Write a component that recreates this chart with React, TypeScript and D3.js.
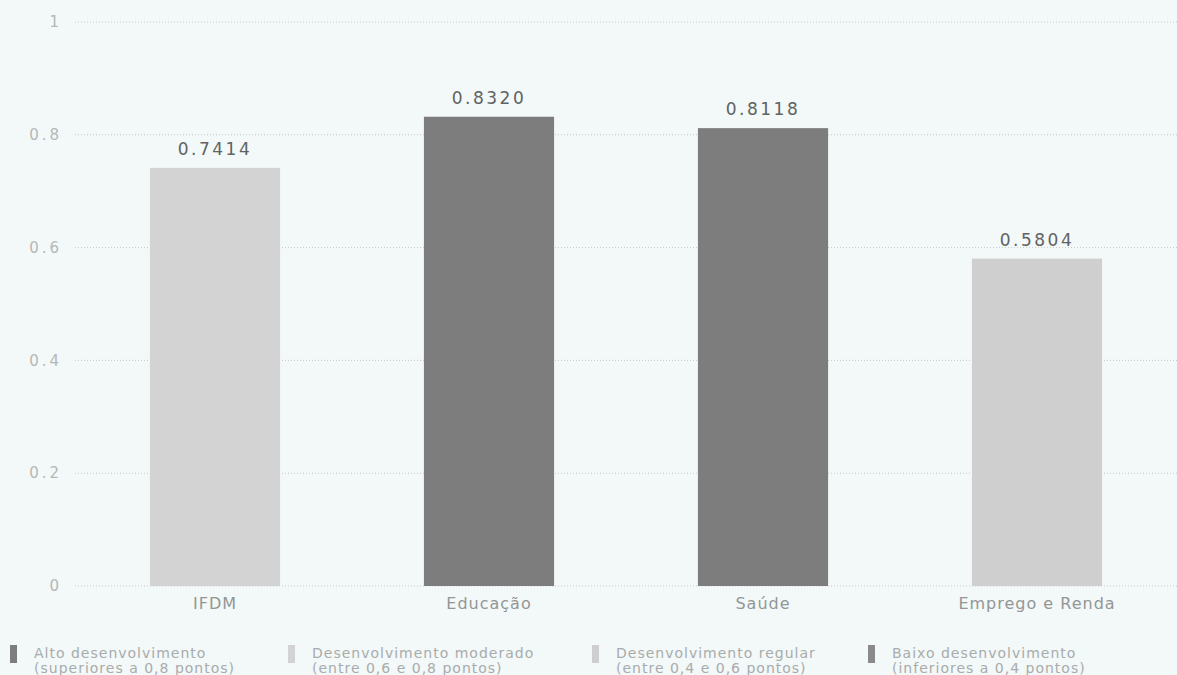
import React, { useEffect, useRef } from 'react';
import * as d3 from 'd3';

const categories = ['IFDM', 'Educação', 'Saúde', 'Emprego e Renda'];
const values = [0.7414, 0.832, 0.8118, 0.5804];
const valueLabels = ['0.7414', '0.8320', '0.8118', '0.5804'];
// faixa de desenvolvimento de cada barra
const barClasses = ['moderado', 'alto', 'alto', 'regular'];

const yTicks = [0, 0.2, 0.4, 0.6, 0.8, 1];

const legendKeys = ['alto', 'moderado', 'regular', 'baixo'];
const legendLine1 = [
  'Alto desenvolvimento',
  'Desenvolvimento moderado',
  'Desenvolvimento regular',
  'Baixo desenvolvimento',
];
const legendLine2 = [
  '(superiores a 0,8 pontos)',
  '(entre 0,6 e 0,8 pontos)',
  '(entre 0,4 e 0,6 pontos)',
  '(inferiores a 0,4 pontos)',
];

const colors: Record<string, string> = {
  alto: '#7d7d7d',
  moderado: '#d3d3d3',
  regular: '#cfcfcf',
  baixo: '#8a8a8a',
};

export default function App() {
  const svgRef = useRef<SVGSVGElement>(null);
  const width = 1177;
  const height = 675;

  useEffect(() => {
    document.body.style.margin = '0';
    if (!svgRef.current) return;
    const svg = d3.select(svgRef.current);
    svg.selectAll('*').remove();

    const font = '"DejaVu Sans", Verdana, sans-serif';

    svg.append('rect')
      .attr('width', width)
      .attr('height', height)
      .attr('fill', '#f3f8f8');

    const x = d3.scaleBand()
      .domain(categories)
      .range([78, 1174])
      .paddingInner(0.525)
      .paddingOuter(0.2625);

    const y = d3.scaleLinear()
      .domain([0, 1])
      .range([586, 22]);

    // Grid lines
    svg.append('g')
      .selectAll('line')
      .data(yTicks)
      .enter()
      .append('line')
      .attr('x1', 75)
      .attr('x2', width)
      .attr('y1', d => y(d))
      .attr('y2', d => y(d))
      .attr('stroke', '#c4c8c8')
      .attr('stroke-width', 1)
      .attr('stroke-dasharray', '1,2');

    // Y tick labels
    svg.append('g')
      .selectAll('text')
      .data(yTicks)
      .enter()
      .append('text')
      .attr('x', 62)
      .attr('y', d => y(d))
      .attr('dy', '0.35em')
      .attr('text-anchor', 'end')
      .attr('font-family', font)
      .attr('font-size', 15)
      .attr('letter-spacing', '3px')
      .attr('fill', '#b4b8b8')
      .text(d => (d === 0 || d === 1 ? String(d) : d.toFixed(1)));

    // Bars
    svg.append('g')
      .selectAll('rect')
      .data(categories)
      .enter()
      .append('rect')
      .attr('x', d => x(d) as number)
      .attr('y', (d, i) => y(values[i]))
      .attr('width', x.bandwidth())
      .attr('height', (d, i) => y(0) - y(values[i]))
      .attr('fill', (d, i) => colors[barClasses[i]]);

    // Value labels
    svg.append('g')
      .selectAll('text')
      .data(categories)
      .enter()
      .append('text')
      .attr('x', d => (x(d) as number) + x.bandwidth() / 2)
      .attr('y', (d, i) => y(values[i]) - 13)
      .attr('text-anchor', 'middle')
      .attr('font-family', font)
      .attr('font-size', 17)
      .attr('letter-spacing', '2.5px')
      .attr('fill', '#606363')
      .text((d, i) => valueLabels[i]);

    // Category labels
    svg.append('g')
      .selectAll('text')
      .data(categories)
      .enter()
      .append('text')
      .attr('x', d => (x(d) as number) + x.bandwidth() / 2)
      .attr('y', 609)
      .attr('text-anchor', 'middle')
      .attr('font-family', font)
      .attr('font-size', 16)
      .attr('letter-spacing', '1px')
      .attr('fill', '#929696')
      .text(d => d);

    // Legend
    const legendX = d3.scaleOrdinal<string, number>()
      .domain(legendKeys)
      .range([10, 288, 592, 868]);

    const legend = svg.append('g')
      .selectAll('g')
      .data(legendKeys)
      .enter()
      .append('g')
      .attr('transform', d => `translate(${legendX(d)},645)`);

    legend.append('rect')
      .attr('width', 7)
      .attr('height', 18)
      .attr('fill', d => colors[d]);

    legend.append('text')
      .attr('x', 24)
      .attr('y', 13)
      .attr('font-family', font)
      .attr('font-size', 14)
      .attr('letter-spacing', '1px')
      .attr('fill', '#a8acac')
      .text((d, i) => legendLine1[i]);

    legend.append('text')
      .attr('x', 24)
      .attr('y', 28)
      .attr('font-family', font)
      .attr('font-size', 14)
      .attr('letter-spacing', '1px')
      .attr('fill', '#a8acac')
      .text((d, i) => legendLine2[i]);
  }, []);

  return <svg ref={svgRef} width={width} height={height} style={{ display: 'block' }} />;
}
